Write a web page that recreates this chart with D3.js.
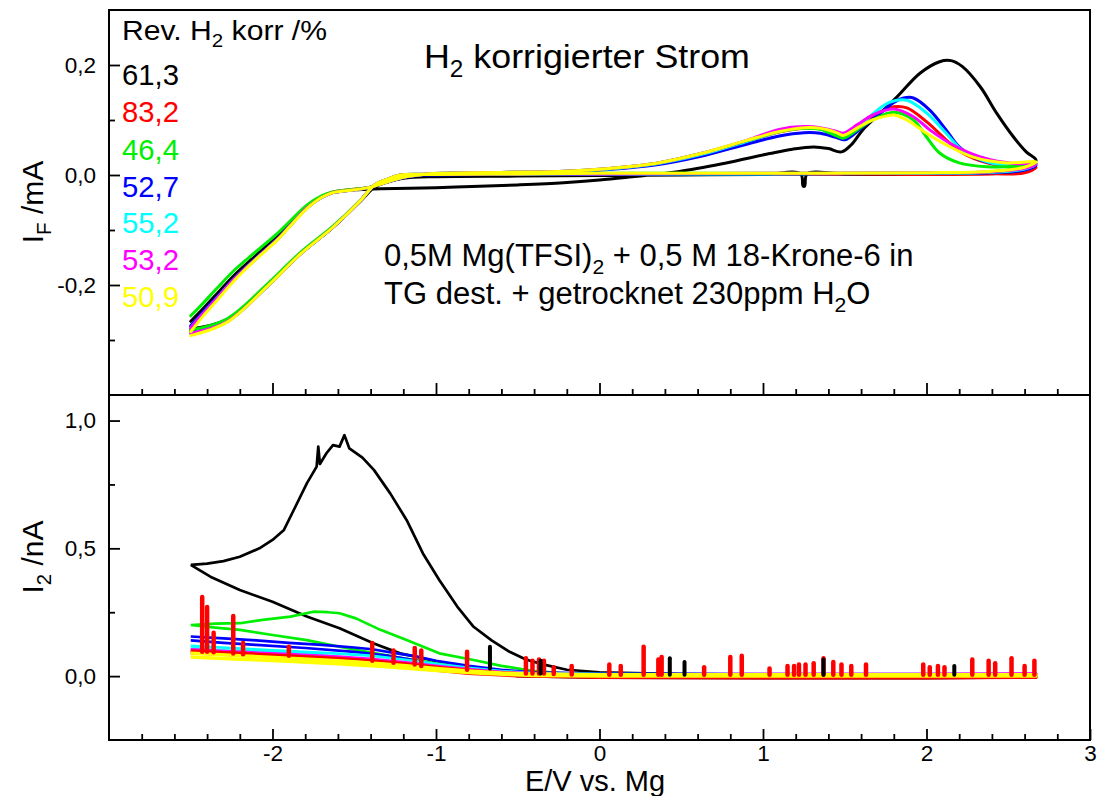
<!DOCTYPE html>
<html><head><meta charset="utf-8">
<script src="https://cdn.jsdelivr.net/npm/d3@7"></script>
<style>
body{margin:0;background:#fff;}
svg{display:block;}
text{font-family:"Liberation Sans",Arial,Helvetica,sans-serif;}
</style>
</head><body>
<svg id="chart" width="1100" height="796"></svg>
<script>
// ---------------- DATA ----------------
const seriesNames  = ["61,3","83,2","46,4","52,7","55,2","53,2","50,9"];
const seriesColors = ["#000000","#ff0000","#00ee00","#0000ff","#00ffff","#ff00ff","#ffff00"];
const xTickLabels = [-2,-1,0,1,2,3];
const yTopTicks = [-0.2,0.0,0.2];
const yBotTicks = [0.0,0.5,1.0];

// Upper panel: I_F / mA vs E / V (cyclic loops)
const ifBlack = [[-2.50,-0.266],[-2.44,-0.248],[-2.34,-0.216],[-2.24,-0.184],[-2.10,-0.146],[-1.97,-0.112],[-1.88,-0.084],[-1.79,-0.057],[-1.70,-0.040],[-1.63,-0.032],[-1.50,-0.027],[-1.34,-0.025],[-1.00,-0.023],[-0.78,-0.021],[-0.50,-0.018],[-0.22,-0.014],[0.00,-0.009],[0.20,-0.003],[0.48,0.006],[0.76,0.021],[1.04,0.039],[1.18,0.047],[1.31,0.051],[1.40,0.048],[1.48,0.042],[1.54,0.055],[1.61,0.082],[1.72,0.113],[1.82,0.142],[1.96,0.185],[2.08,0.206],[2.15,0.208],[2.22,0.197],[2.33,0.160],[2.43,0.112],[2.53,0.070],[2.61,0.042],[2.67,0.027],[2.60,0.010],[2.40,0.005],[2.00,0.003],[1.50,0.002],[1.27,0.002],[1.255,-0.020],[1.245,-0.020],[1.23,0.002],[1.00,0.001],[0.50,0.000],[0.00,-0.001],[-0.50,-0.002],[-1.00,-0.003],[-1.20,-0.006],[-1.30,-0.013],[-1.38,-0.023],[-1.46,-0.047],[-1.63,-0.095],[-1.83,-0.143],[-2.03,-0.201],[-2.28,-0.263],[-2.50,-0.280]];
const ifRed = [[-2.50,-0.276],[-2.44,-0.255],[-2.34,-0.222],[-2.24,-0.189],[-2.10,-0.150],[-1.97,-0.115],[-1.88,-0.087],[-1.79,-0.059],[-1.70,-0.040],[-1.63,-0.031],[-1.50,-0.026],[-1.40,-0.022],[-1.30,-0.013],[-1.20,-0.004],[-1.05,0.002],[-0.80,0.004],[-0.50,0.005],[-0.20,0.007],[0.06,0.011],[0.34,0.020],[0.62,0.037],[0.90,0.061],[1.10,0.078],[1.25,0.085],[1.35,0.084],[1.45,0.076],[1.49,0.072],[1.60,0.090],[1.70,0.112],[1.80,0.124],[1.88,0.122],[2.00,0.097],[2.12,0.064],[2.22,0.040],[2.37,0.022],[2.50,0.016],[2.67,0.014],[2.60,0.004],[2.40,0.002],[2.00,0.001],[1.00,0.001],[0.00,0.001],[-0.50,0.001],[-1.00,0.000],[-1.22,-0.002],[-1.30,-0.009],[-1.38,-0.020],[-1.46,-0.046],[-1.63,-0.095],[-1.83,-0.143],[-2.03,-0.201],[-2.28,-0.265],[-2.50,-0.286]];
const ifGreen = [[-2.50,-0.256],[-2.44,-0.238],[-2.34,-0.206],[-2.24,-0.175],[-2.10,-0.139],[-1.97,-0.106],[-1.88,-0.080],[-1.79,-0.055],[-1.70,-0.038],[-1.63,-0.031],[-1.50,-0.026],[-1.40,-0.022],[-1.30,-0.013],[-1.20,-0.004],[-1.05,0.002],[-0.80,0.004],[-0.50,0.005],[-0.20,0.007],[0.06,0.012],[0.34,0.021],[0.62,0.039],[0.90,0.062],[1.10,0.079],[1.25,0.085],[1.35,0.083],[1.45,0.071],[1.49,0.067],[1.58,0.083],[1.67,0.100],[1.80,0.114],[1.92,0.100],[2.00,0.069],[2.08,0.040],[2.20,0.022],[2.37,0.015],[2.55,0.016],[2.67,0.021],[2.60,0.014],[2.40,0.006],[2.00,0.004],[1.00,0.003],[0.00,0.003],[-0.50,0.002],[-1.00,0.001],[-1.22,0.000],[-1.30,-0.008],[-1.38,-0.019],[-1.46,-0.045],[-1.63,-0.093],[-1.83,-0.141],[-2.03,-0.198],[-2.28,-0.262],[-2.50,-0.282]];
const ifBlue = [[-2.50,-0.274],[-2.44,-0.254],[-2.34,-0.222],[-2.24,-0.190],[-2.10,-0.151],[-1.97,-0.116],[-1.88,-0.088],[-1.79,-0.060],[-1.70,-0.041],[-1.63,-0.032],[-1.50,-0.027],[-1.40,-0.022],[-1.30,-0.013],[-1.20,-0.005],[-1.05,0.001],[-0.80,0.003],[-0.50,0.004],[-0.20,0.006],[0.06,0.010],[0.34,0.018],[0.62,0.034],[0.90,0.056],[1.10,0.071],[1.25,0.077],[1.35,0.076],[1.45,0.068],[1.50,0.064],[1.60,0.085],[1.72,0.113],[1.80,0.132],[1.86,0.140],[1.92,0.140],[2.02,0.118],[2.12,0.082],[2.20,0.051],[2.33,0.027],[2.49,0.018],[2.67,0.018],[2.60,0.009],[2.40,0.004],[2.00,0.003],[1.00,0.002],[0.00,0.002],[-0.50,0.001],[-1.00,0.000],[-1.22,-0.001],[-1.30,-0.009],[-1.38,-0.020],[-1.46,-0.046],[-1.63,-0.095],[-1.83,-0.144],[-2.03,-0.202],[-2.28,-0.266],[-2.50,-0.284]];
const ifCyan = [[-2.50,-0.278],[-2.44,-0.257],[-2.34,-0.224],[-2.24,-0.191],[-2.10,-0.152],[-1.97,-0.117],[-1.88,-0.088],[-1.79,-0.060],[-1.70,-0.041],[-1.63,-0.032],[-1.50,-0.027],[-1.40,-0.022],[-1.30,-0.013],[-1.20,-0.004],[-1.05,0.002],[-0.80,0.004],[-0.50,0.005],[-0.20,0.007],[0.06,0.011],[0.34,0.020],[0.62,0.037],[0.90,0.061],[1.10,0.079],[1.25,0.086],[1.35,0.084],[1.45,0.076],[1.50,0.072],[1.60,0.092],[1.70,0.118],[1.78,0.133],[1.88,0.136],[2.00,0.113],[2.12,0.076],[2.22,0.045],[2.37,0.024],[2.50,0.018],[2.67,0.020],[2.60,0.011],[2.40,0.005],[2.00,0.003],[1.00,0.002],[0.00,0.002],[-0.50,0.002],[-1.00,0.001],[-1.22,0.000],[-1.30,-0.008],[-1.38,-0.019],[-1.46,-0.046],[-1.63,-0.095],[-1.83,-0.144],[-2.03,-0.202],[-2.28,-0.267],[-2.50,-0.288]];
const ifMagenta = [[-2.50,-0.278],[-2.44,-0.257],[-2.34,-0.224],[-2.24,-0.191],[-2.10,-0.152],[-1.97,-0.117],[-1.88,-0.088],[-1.79,-0.060],[-1.70,-0.041],[-1.63,-0.032],[-1.50,-0.027],[-1.40,-0.022],[-1.30,-0.013],[-1.20,-0.004],[-1.05,0.002],[-0.80,0.004],[-0.50,0.005],[-0.20,0.007],[0.06,0.012],[0.34,0.021],[0.62,0.039],[0.90,0.063],[1.10,0.083],[1.25,0.088],[1.35,0.086],[1.45,0.079],[1.49,0.076],[1.58,0.092],[1.67,0.109],[1.80,0.120],[1.92,0.106],[2.02,0.082],[2.16,0.055],[2.33,0.033],[2.53,0.021],[2.67,0.020],[2.60,0.012],[2.40,0.006],[2.00,0.004],[1.00,0.003],[0.00,0.002],[-0.50,0.002],[-1.00,0.001],[-1.22,0.000],[-1.30,-0.008],[-1.38,-0.019],[-1.46,-0.046],[-1.63,-0.095],[-1.83,-0.144],[-2.03,-0.202],[-2.28,-0.267],[-2.50,-0.288]];
const ifYellow = [[-2.50,-0.285],[-2.44,-0.262],[-2.34,-0.228],[-2.24,-0.194],[-2.10,-0.153],[-1.97,-0.118],[-1.88,-0.089],[-1.79,-0.061],[-1.70,-0.041],[-1.63,-0.032],[-1.50,-0.027],[-1.40,-0.022],[-1.30,-0.013],[-1.20,-0.004],[-1.05,0.002],[-0.80,0.004],[-0.50,0.005],[-0.20,0.007],[0.06,0.012],[0.34,0.021],[0.62,0.039],[0.90,0.063],[1.10,0.079],[1.25,0.086],[1.35,0.085],[1.45,0.077],[1.49,0.072],[1.58,0.086],[1.67,0.100],[1.75,0.107],[1.80,0.109],[1.88,0.100],[2.00,0.076],[2.12,0.055],[2.28,0.033],[2.49,0.022],[2.67,0.024],[2.60,0.014],[2.40,0.007],[2.00,0.004],[1.00,0.003],[0.00,0.003],[-0.50,0.002],[-1.00,0.001],[-1.22,0.000],[-1.30,-0.008],[-1.38,-0.019],[-1.46,-0.046],[-1.63,-0.095],[-1.83,-0.144],[-2.03,-0.202],[-2.28,-0.268],[-2.50,-0.292]];

// Lower panel: I_2 / nA vs E / V
const i2Black = [[-2.50,0.435],[-2.40,0.440],[-2.30,0.450],[-2.20,0.467],[-2.08,0.500],[-2.00,0.533],[-1.93,0.572],[-1.87,0.650],[-1.79,0.754],[-1.73,0.820],[-1.72,0.898],[-1.71,0.830],[-1.67,0.872],[-1.63,0.904],[-1.59,0.898],[-1.56,0.943],[-1.53,0.891],[-1.45,0.855],[-1.38,0.807],[-1.28,0.715],[-1.18,0.611],[-1.08,0.480],[-0.98,0.376],[-0.87,0.272],[-0.77,0.193],[-0.66,0.140],[-0.55,0.095],[-0.45,0.065],[-0.34,0.045],[-0.20,0.025],[0.00,0.015],[0.50,0.008],[1.00,0.006],[1.50,0.005],[2.00,0.005],[2.67,0.005],[2.67,-0.005],[2.00,-0.008],[1.00,-0.008],[0.00,-0.006],[-0.50,0.000],[-0.80,0.030],[-1.08,0.070],[-1.22,0.089],[-1.38,0.128],[-1.59,0.187],[-1.79,0.233],[-2.00,0.291],[-2.20,0.337],[-2.38,0.389],[-2.50,0.435]];
const i2Red = [[-2.50,0.100],[-2.20,0.090],[-1.90,0.080],[-1.60,0.070],[-1.40,0.062],[-1.20,0.050],[-1.00,0.036],[-0.80,0.024],[-0.60,0.014],[-0.40,0.008],[0.00,0.005],[1.00,0.005],[2.00,0.005],[2.67,0.005],[2.67,-0.006],[2.00,-0.008],[1.00,-0.008],[0.00,-0.006],[-0.50,0.000],[-0.80,0.010],[-1.10,0.028],[-1.40,0.046],[-1.70,0.062],[-2.00,0.074],[-2.30,0.084],[-2.50,0.090]];
const i2Green = [[-2.50,0.200],[-2.35,0.205],[-2.20,0.207],[-2.06,0.220],[-1.89,0.233],[-1.75,0.252],[-1.66,0.250],[-1.59,0.246],[-1.49,0.226],[-1.34,0.181],[-1.18,0.141],[-0.98,0.089],[-0.77,0.063],[-0.60,0.040],[-0.40,0.020],[-0.20,0.010],[0.00,0.008],[1.00,0.006],[2.00,0.006],[2.67,0.006],[2.67,0.000],[1.00,0.000],[0.00,0.000],[-0.50,0.010],[-0.90,0.040],[-1.20,0.070],[-1.38,0.090],[-1.59,0.115],[-1.79,0.141],[-2.00,0.161],[-2.20,0.181],[-2.35,0.190],[-2.50,0.200]];
const i2Blue = [[-2.50,0.155],[-2.30,0.148],[-2.10,0.140],[-1.90,0.130],[-1.70,0.122],[-1.50,0.112],[-1.39,0.105],[-1.25,0.090],[-1.13,0.078],[-1.00,0.060],[-0.80,0.040],[-0.60,0.025],[-0.40,0.015],[0.00,0.010],[1.00,0.008],[2.00,0.008],[2.67,0.008],[2.67,0.002],[1.00,0.000],[0.00,0.000],[-0.40,0.006],[-0.70,0.020],[-1.00,0.045],[-1.13,0.062],[-1.30,0.080],[-1.50,0.095],[-1.80,0.110],[-2.10,0.122],[-2.30,0.130],[-2.50,0.140]];
const i2Cyan = [[-2.50,0.118],[-2.20,0.108],[-1.90,0.098],[-1.60,0.088],[-1.40,0.080],[-1.20,0.065],[-1.00,0.048],[-0.80,0.032],[-0.60,0.020],[-0.40,0.012],[0.00,0.008],[1.00,0.006],[2.00,0.006],[2.67,0.006],[2.67,0.000],[0.00,0.000],[-0.50,0.006],[-0.80,0.018],[-1.10,0.040],[-1.40,0.062],[-1.70,0.080],[-2.00,0.092],[-2.30,0.100],[-2.50,0.108]];
const i2Magenta = [[-2.50,0.105],[-2.20,0.095],[-1.90,0.086],[-1.60,0.076],[-1.40,0.068],[-1.20,0.055],[-1.00,0.040],[-0.80,0.027],[-0.60,0.017],[-0.40,0.010],[0.00,0.006],[1.00,0.008],[2.00,0.008],[2.67,0.010],[2.67,0.003],[0.00,0.002],[-0.50,0.004],[-0.80,0.014],[-1.10,0.032],[-1.40,0.050],[-1.70,0.066],[-2.00,0.078],[-2.30,0.088],[-2.50,0.095]];
const i2Yellow = [[-2.50,0.090],[-2.20,0.080],[-1.90,0.070],[-1.60,0.060],[-1.40,0.052],[-1.20,0.042],[-1.00,0.030],[-0.80,0.020],[-0.60,0.012],[-0.40,0.008],[0.00,0.006],[1.00,0.006],[2.00,0.006],[2.67,0.006],[2.67,0.000],[0.00,0.000],[-0.40,0.002],[-0.70,0.010],[-1.00,0.022],[-1.30,0.036],[-1.60,0.048],[-1.90,0.058],[-2.20,0.066],[-2.50,0.075]];
// spikes in I_2 signal: [E, from, to]
const i2RedSpikes = [[-2.43,0.095,0.31],[-2.40,0.095,0.27],[-2.36,0.093,0.17],[-2.24,0.088,0.235],[-2.18,0.086,0.13],[-1.90,0.080,0.115],[-1.39,0.060,0.13],[-1.26,0.052,0.10],[-1.13,0.045,0.11],[-1.09,0.040,0.10],[-0.81,0.025,0.095],[-0.45,0.010,0.07],[-0.41,0.010,0.06],[-0.37,0.010,0.065],[-0.34,0.010,0.06],[-0.28,0.008,0.035],[-0.17,0.006,0.04],[0.06,0.005,0.045],[0.13,0.005,0.04],[0.27,0.005,0.115],[0.36,0.005,0.065],[0.38,0.005,0.075],[0.64,0.005,0.035],[0.80,0.005,0.075],[0.87,0.005,0.08],[1.04,0.005,0.03],[1.15,0.005,0.04],[1.19,0.005,0.04],[1.22,0.005,0.045],[1.26,0.005,0.045],[1.31,0.005,0.05],[1.37,0.005,0.07],[1.43,0.005,0.055],[1.48,0.005,0.045],[1.54,0.005,0.04],[1.63,0.005,0.045],[1.98,0.005,0.045],[2.02,0.005,0.035],[2.07,0.005,0.04],[2.11,0.005,0.035],[2.28,0.005,0.065],[2.38,0.005,0.06],[2.42,0.005,0.05],[2.52,0.005,0.07],[2.60,0.005,0.04],[2.66,0.005,0.06]];
const i2BlackSpikes = [[-0.67,0.030,0.115],[-0.36,0.010,0.06],[0.43,0.005,0.07],[0.52,0.005,0.055],[1.37,0.005,0.065],[2.17,0.005,0.04]];

const topSeries = [ifBlack, ifRed, ifGreen, ifBlue, ifCyan, ifMagenta, ifYellow];
const botSeries = [i2Black, i2Red, i2Green, i2Blue, i2Cyan, i2Magenta, i2Yellow];
const topOrder = [1,0,3,4,2,5,6];
const botOrder = [0,2,3,4,5,1,6];

// ---------------- LAYOUT ----------------
const L = 109, R = 1090, T = 10, MID = 395, B = 740;
const svg = d3.select("#chart");
const x = d3.scaleLinear().domain([-3,3]).range([L,R]);
const yTop = d3.scaleLinear().domain([-0.4,0.3]).range([MID,T]);
const yBot = d3.scaleLinear().domain([-0.25,1.1]).range([B,MID]);
const deci = d => d.toFixed(1).replace(".",",");

const defs = svg.append("defs");
defs.append("clipPath").attr("id","clipTop").append("rect").attr("x",L).attr("y",T).attr("width",R-L).attr("height",MID-T);
defs.append("clipPath").attr("id","clipBot").append("rect").attr("x",L).attr("y",MID).attr("width",R-L).attr("height",B-MID);

// curves top
const lineTop = d3.line().x(d=>x(d[0])).y(d=>yTop(d[1])).curve(d3.curveCatmullRom.alpha(0.5));
const gTop = svg.append("g").attr("clip-path","url(#clipTop)");
topOrder.forEach(i=>{
  gTop.append("path").datum(topSeries[i]).attr("d",lineTop)
    .attr("fill","none").attr("stroke",seriesColors[i]).attr("stroke-width",3)
    .attr("stroke-linejoin","round").attr("stroke-linecap","round");
});

// curves bottom
const lineBot = d3.line().x(d=>x(d[0])).y(d=>yBot(d[1]));
const gBot = svg.append("g").attr("clip-path","url(#clipBot)");
botOrder.forEach(i=>{
  gBot.append("path").datum(botSeries[i]).attr("d",lineBot)
    .attr("fill","none").attr("stroke",seriesColors[i]).attr("stroke-width",i===6?3.4:2.7)
    .attr("stroke-linejoin","round");
});
const spikeLine = d => `M${x(d[0])},${yBot(d[1])}L${x(d[0])},${yBot(d[2])}`;
gBot.selectAll(".rs").data(i2RedSpikes).join("path").attr("d",spikeLine)
  .attr("stroke",seriesColors[1]).attr("stroke-width",4.5).attr("stroke-linecap","round").attr("fill","none");
gBot.selectAll(".bs").data(i2BlackSpikes).join("path").attr("d",spikeLine)
  .attr("stroke",seriesColors[0]).attr("stroke-width",4).attr("stroke-linecap","round").attr("fill","none");

// ---------------- AXES ----------------
const minorX = d3.range(-2.8,3,0.2).map(v=>+v.toFixed(1)).filter(v=>Math.abs(v-Math.round(v))>1e-6);
const majorX = [-2,-1,0,1,2];
function styleAxis(g){ g.select(".domain").remove(); g.selectAll("line").attr("stroke","#000").attr("stroke-width",1.8); }
const tickFont = 22.5;

// bottom axis (labels)
svg.append("g").attr("transform",`translate(0,${B})`)
  .call(d3.axisBottom(x).tickValues(xTickLabels).tickSize(-11).tickPadding(5).tickFormat(d=>String(d)))
  .call(styleAxis)
  .call(g=>g.selectAll("text").attr("font-size",tickFont).attr("fill","#000").attr("font-family","Liberation Sans, Arial, sans-serif"));
svg.append("g").attr("transform",`translate(0,${B})`)
  .call(d3.axisBottom(x).tickValues(minorX).tickSize(-6).tickFormat(""))
  .call(styleAxis);
// top panel bottom ticks
svg.append("g").attr("transform",`translate(0,${MID})`)
  .call(d3.axisBottom(x).tickValues(majorX).tickSize(-12).tickFormat(""))
  .call(styleAxis);
svg.append("g").attr("transform",`translate(0,${MID})`)
  .call(d3.axisBottom(x).tickValues(minorX).tickSize(-6).tickFormat(""))
  .call(styleAxis);

// y axes
function yAxis(scale, major, minor){
  svg.append("g").attr("transform",`translate(${L},0)`)
    .call(d3.axisLeft(scale).tickValues(major).tickSize(-11).tickPadding(13).tickFormat(deci))
    .call(styleAxis)
    .call(g=>g.selectAll("text").attr("font-size",tickFont).attr("fill","#000").attr("font-family","Liberation Sans, Arial, sans-serif"));
  svg.append("g").attr("transform",`translate(${L},0)`)
    .call(d3.axisLeft(scale).tickValues(minor).tickSize(-6).tickFormat(""))
    .call(styleAxis);
}
yAxis(yTop, yTopTicks, [-0.3,-0.1,0.1]);
yAxis(yBot, yBotTicks, [0.25,0.75]);

// frames
svg.append("rect").attr("x",L).attr("y",T).attr("width",R-L).attr("height",MID-T).attr("fill","none").attr("stroke","#000").attr("stroke-width",2);
svg.append("rect").attr("x",L).attr("y",MID).attr("width",R-L).attr("height",B-MID).attr("fill","none").attr("stroke","#000").attr("stroke-width",2);

// ---------------- TEXT ----------------
function rich(parent, px, py, size, parts, opts={}){
  const t = parent.append("text").attr("font-size",size).attr("fill",opts.fill||"#000")
    .attr("text-anchor",opts.anchor||"start");
  let down = false;
  const sh = size*0.25;
  parts.forEach(p=>{
    const sub = p.startsWith("_");
    const s = t.append("tspan").text(sub ? p.slice(1) : p);
    if (sub){ s.attr("font-size",size*0.68).attr("dy",sh); down = true; }
    else if (down){ s.attr("dy",-sh); down = false; }
  });
  let sx = 1;
  if (opts.width) sx = opts.width / t.node().getComputedTextLength();
  t.attr("transform",`translate(${px},${py})${opts.rotate?` rotate(${opts.rotate})`:""} scale(${sx},1)`);
  return t;
}
rich(svg, 122, 40, 28, ["Rev. H","_2"," korr /%"], {width:205});
const legendY = [85,122,160,197,233,270,307];
seriesNames.forEach((n,i)=> rich(svg, 122, legendY[i], 29, [n], {fill:seriesColors[i], width:57}));
rich(svg, 424, 68, 34, ["H","_2"," korrigierter Strom"], {width:326});
rich(svg, 384, 266, 31, ["0,5M Mg(TFSI)","_2"," + 0,5 M 18-Krone-6 in"]);
rich(svg, 384, 304, 31, ["TG dest. + getrocknet 230ppm H","_2","O"]);
rich(svg, 595, 791, 29, ["E/V vs. Mg"], {anchor:"middle"});
rich(svg, 43, 202, 30, ["I","_F"," /mA"], {anchor:"middle", rotate:-90});
rich(svg, 43, 557, 30, ["I","_2"," /nA"], {anchor:"middle", rotate:-90});
</script>
</body></html>
